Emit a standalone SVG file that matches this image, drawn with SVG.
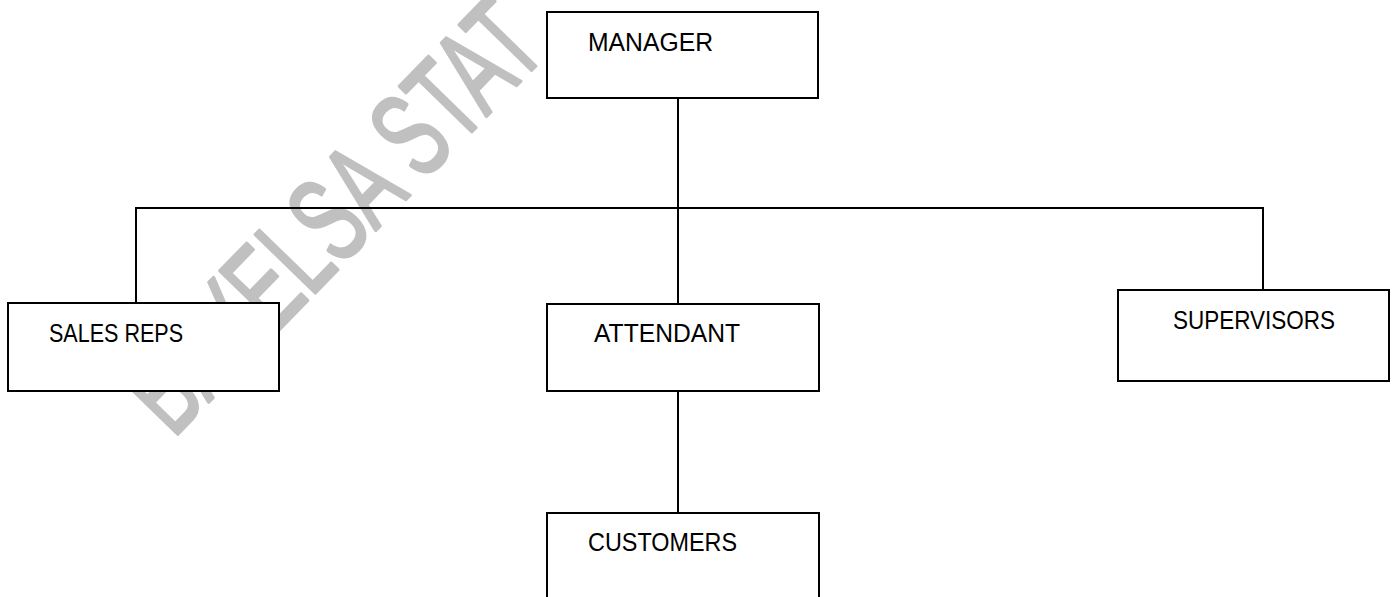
<svg xmlns="http://www.w3.org/2000/svg" width="1392" height="597" viewBox="0 0 1392 597">
<style>
.box{fill:#fff;stroke:#000;stroke-width:2}
.lbl{font-family:"Liberation Sans",Arial,sans-serif;font-size:25px;fill:#000}
.wm{font-family:"Liberation Sans",Arial,sans-serif;font-size:76px;fill:#c0c0c0;stroke:#c0c0c0;stroke-width:2;stroke-linejoin:round}
#connectors line{stroke:#000;stroke-width:2;fill:none}
</style>
<rect x="0" y="0" width="1392" height="597" fill="#fff"/>
<g id="watermark">
<text class="wm" transform="translate(173,439) rotate(-45.8) scale(1,1.6)" x="0" y="0">BAYELSA STAT</text>
</g>
<g id="connectors">
<line x1="678" y1="98" x2="678" y2="304"/>
<line x1="135" y1="208" x2="1264" y2="208"/>
<line x1="136" y1="207" x2="136" y2="303"/>
<line x1="1263" y1="207" x2="1263" y2="290"/>
<line x1="678" y1="391" x2="678" y2="513"/>
</g>
<g id="manager">
<rect class="box" x="547" y="12" width="271" height="86"/>
<text class="lbl" x="588" y="51" textLength="125" lengthAdjust="spacingAndGlyphs">MANAGER</text>
</g>
<g id="sales-reps">
<rect class="box" x="8" y="303" width="271" height="88"/>
<text class="lbl" x="49" y="342" textLength="134" lengthAdjust="spacingAndGlyphs">SALES REPS</text>
</g>
<g id="attendant">
<rect class="box" x="547" y="304" width="272" height="87"/>
<text class="lbl" x="594" y="342" textLength="146" lengthAdjust="spacingAndGlyphs">ATTENDANT</text>
</g>
<g id="supervisors">
<rect class="box" x="1118" y="290" width="271" height="91"/>
<text class="lbl" x="1173" y="329" textLength="162" lengthAdjust="spacingAndGlyphs">SUPERVISORS</text>
</g>
<g id="customers">
<rect class="box" x="547" y="513" width="272" height="90"/>
<text class="lbl" x="588" y="551" textLength="149" lengthAdjust="spacingAndGlyphs">CUSTOMERS</text>
</g>
</svg>
